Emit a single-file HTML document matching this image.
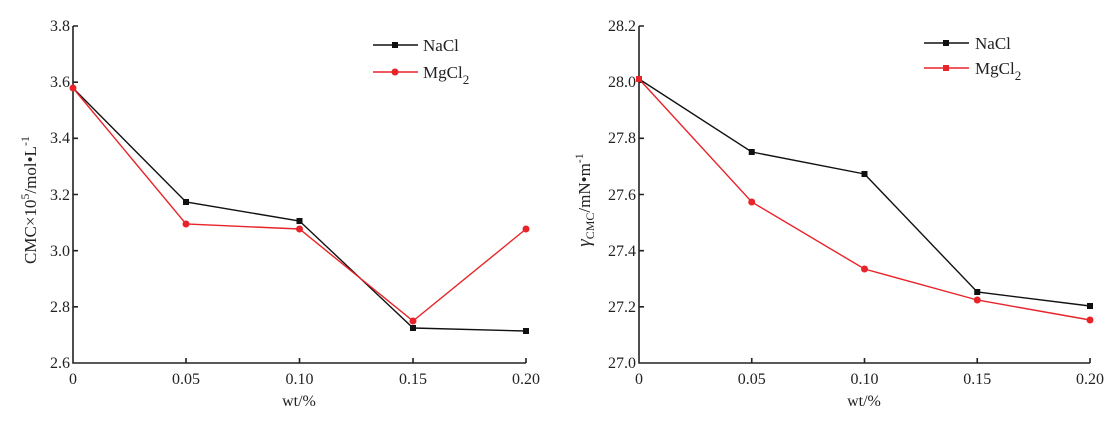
<!DOCTYPE html>
<html><head><meta charset="utf-8"><style>
body{margin:0;background:#fff;}
svg text{font-family:"Liberation Serif",serif;fill:#222;}
</style></head><body>
<svg width="1120" height="419" viewBox="0 0 1120 419" xmlns="http://www.w3.org/2000/svg">
<!-- LEFT CHART -->
<g stroke="#222" stroke-width="1.6" fill="none">
<path d="M73,26 V363 H526"/>
<path d="M73,26 h5 M73,82.2 h5 M73,138.3 h5 M73,194.5 h5 M73,250.7 h5 M73,306.8 h5"/>
<path d="M186,363 v-5 M299.5,363 v-5 M413,363 v-5 M526,363 v-5"/>
</g>
<g font-size="16" text-anchor="end">
<text x="70" y="31">3.8</text><text x="70" y="87">3.6</text><text x="70" y="143">3.4</text>
<text x="70" y="200">3.2</text><text x="70" y="256">3.0</text><text x="70" y="312">2.8</text><text x="70" y="368">2.6</text>
</g>
<g font-size="16" text-anchor="middle">
<text x="73" y="384">0</text><text x="186" y="384">0.05</text><text x="299.5" y="384">0.10</text><text x="413" y="384">0.15</text><text x="526" y="384">0.20</text>
<text x="299" y="406">wt/%</text>
</g>
<text font-size="17" transform="translate(36,200) rotate(-90)" text-anchor="middle">CMC×10<tspan font-size="12" dy="-7">5</tspan><tspan dy="7">/mol•L</tspan><tspan font-size="12" dy="-7">-1</tspan></text>
<polyline fill="none" stroke="#111" stroke-width="1.4" points="73,88 186,202 299.5,221 413,328 526,331"/>
<g fill="#111"><rect x="183" y="199" width="6" height="6"/><rect x="296.5" y="218" width="6" height="6"/><rect x="410" y="325" width="6" height="6"/><rect x="523" y="328" width="6" height="6"/></g>
<polyline fill="none" stroke="#e8232a" stroke-width="1.4" points="73,88 186,224 299.5,229 413,321 526,229"/>
<g fill="#e8232a"><circle cx="73" cy="88" r="3.5"/><circle cx="186" cy="224" r="3.5"/><circle cx="299.5" cy="229" r="3.5"/><circle cx="413" cy="321" r="3.5"/><circle cx="526" cy="229" r="3.5"/></g>
<line x1="373" y1="45" x2="418" y2="45" stroke="#111" stroke-width="1.4"/><rect x="392" y="42" width="6" height="6" fill="#111"/>
<line x1="373" y1="72" x2="418" y2="72" stroke="#e8232a" stroke-width="1.4"/><circle cx="395" cy="72" r="3.5" fill="#e8232a"/>
<text x="423" y="51" font-size="17">NaCl</text>
<text x="423" y="78" font-size="17">MgCl<tspan font-size="13" dy="6">2</tspan></text>

<!-- RIGHT CHART -->
<g stroke="#222" stroke-width="1.6" fill="none">
<path d="M639,26 V363 H1090"/>
<path d="M639,26 h5 M639,82.2 h5 M639,138.3 h5 M639,194.5 h5 M639,250.7 h5 M639,306.8 h5"/>
<path d="M751.75,363 v-5 M864.5,363 v-5 M977.25,363 v-5 M1090,363 v-5"/>
</g>
<g font-size="16" text-anchor="end">
<text x="636" y="31">28.2</text><text x="636" y="87">28.0</text><text x="636" y="143">27.8</text>
<text x="636" y="200">27.6</text><text x="636" y="256">27.4</text><text x="636" y="312">27.2</text><text x="636" y="368">27.0</text>
</g>
<g font-size="16" text-anchor="middle">
<text x="639" y="384">0</text><text x="751.75" y="384">0.05</text><text x="864.5" y="384">0.10</text><text x="977.25" y="384">0.15</text><text x="1090" y="384">0.20</text>
<text x="864" y="406">wt/%</text>
</g>
<text font-size="17" transform="translate(590,200) rotate(-90)" text-anchor="middle"><tspan font-style="italic" font-size="19">γ</tspan><tspan font-size="12" dy="4">CMC</tspan><tspan dy="-4">/mN•m</tspan><tspan font-size="12" dy="-7">-1</tspan></text>
<polyline fill="none" stroke="#111" stroke-width="1.4" points="639,79 751.75,152 864.5,174 977.25,292 1090,306"/>
<g fill="#111"><rect x="748.75" y="149" width="6" height="6"/><rect x="861.5" y="171" width="6" height="6"/><rect x="974.25" y="289" width="6" height="6"/><rect x="1087" y="303" width="6" height="6"/></g>
<polyline fill="none" stroke="#e8232a" stroke-width="1.4" points="639,79 751.75,202 864.5,269 977.25,300 1090,320"/>
<g fill="#e8232a"><rect x="636" y="76" width="6" height="6"/><circle cx="751.75" cy="202" r="3.5"/><circle cx="864.5" cy="269" r="3.5"/><circle cx="977.25" cy="300" r="3.5"/><circle cx="1090" cy="320" r="3.5"/></g>
<line x1="924" y1="43" x2="969" y2="43" stroke="#111" stroke-width="1.4"/><rect x="943" y="40" width="6" height="6" fill="#111"/>
<line x1="924" y1="68" x2="969" y2="68" stroke="#e8232a" stroke-width="1.4"/><rect x="943" y="65" width="6" height="6" fill="#e8232a"/>
<text x="975" y="49" font-size="17">NaCl</text>
<text x="975" y="74" font-size="17">MgCl<tspan font-size="13" dy="6">2</tspan></text>
</svg>
</body></html>
